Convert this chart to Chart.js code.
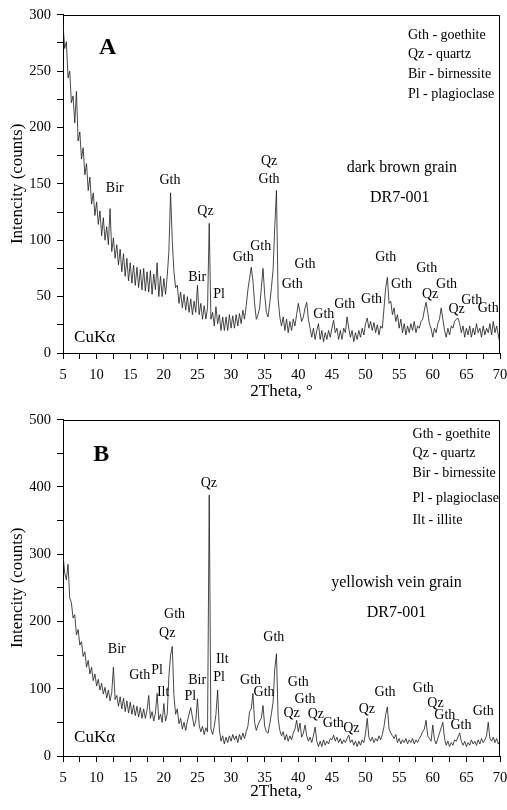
<!DOCTYPE html>
<html>
<head>
<meta charset="utf-8">
<script src="https://cdn.jsdelivr.net/npm/chart.js@4.4.0/dist/chart.umd.min.js"></script>
<style>
  body { margin: 0; background: #fff; }
  .panel { width: 507px; height: 405px; }
</style>
</head>
<body>
<div class="panel"><canvas id="chartA" width="507" height="405"></canvas></div>
<div class="panel"><canvas id="chartB" width="507" height="405"></canvas></div>
<script>
// 2Theta grid of the scans
const thetaStart = 5;
const thetaStep = 0.25;

// panel A - dark brown grain (counts, one row per degree)
const countsA = [
  292, 270, 276, 244,
  250, 222, 228, 204,
  232, 188, 196, 172,
  182, 158, 168, 144,
  156, 132, 142, 122,
  134, 114, 126, 104,
  120, 100, 112, 96,
  128, 90, 102, 84,
  96, 78, 92, 72,
  88, 68, 84, 64,
  80, 62, 78, 60,
  76, 58, 74, 56,
  75, 55, 72, 54,
  73, 52, 70, 56,
  80, 50, 68, 50,
  66, 52, 68, 90,
  142, 100, 72, 58,
  60, 44, 54, 40,
  52, 38, 50, 36,
  48, 34, 46, 36,
  60, 34, 44, 30,
  42, 30, 40, 115,
  30, 36, 24, 41,
  26, 34, 20, 32,
  20, 32, 20, 34,
  22, 33, 22, 34,
  24, 35, 26, 38,
  30, 42, 56, 66,
  76, 64, 44, 30,
  34, 40, 58, 75,
  52, 36, 32, 44,
  58, 74, 112, 144,
  48, 32, 24, 32,
  20, 30, 18, 28,
  20, 30, 24, 34,
  44, 36, 28, 32,
  40, 45, 30, 22,
  14, 22, 12, 20,
  26, 12, 20, 10,
  18, 12, 20, 14,
  22, 29, 18, 22,
  12, 20, 12, 22,
  18, 32, 22, 14,
  20, 10, 18, 12,
  20, 14, 22, 16,
  26, 31, 22, 28,
  20, 27, 18, 25,
  16, 24, 22, 40,
  58, 67, 44, 46,
  34, 40, 28, 34,
  22, 30, 18, 26,
  16, 24, 18, 26,
  20, 28, 18, 24,
  22, 28, 30, 38,
  45, 36, 26, 22,
  14, 22, 18, 26,
  30, 40, 30, 20,
  14, 22, 16, 24,
  22, 28, 30, 31,
  26, 18, 24, 14,
  22, 16, 24, 14,
  22, 16, 26, 18,
  22, 14, 24, 16,
  22, 18, 26, 16,
  28, 18, 24, 16,
  8
];

// panel B - yellowish vein grain
const countsB = [
  300, 272, 262, 285,
  235, 228, 205, 210,
  180, 188, 165, 170,
  148, 155, 132, 142,
  122, 132, 112, 122,
  104, 114, 98, 108,
  92, 102, 86, 98,
  82, 94, 132, 84,
  90, 74, 88, 70,
  86, 66, 82, 64,
  80, 62, 76, 60,
  74, 58, 72, 56,
  70, 56, 68, 90,
  56, 66, 52, 64,
  93, 54, 62, 50,
  78, 52, 62, 118,
  150, 163, 90, 62,
  70, 48, 56, 40,
  50, 38, 52, 62,
  72, 58, 44, 52,
  85, 46, 36, 44,
  32, 42, 36, 388,
  40, 32, 44, 62,
  98, 40, 22, 30,
  18, 28, 20, 30,
  22, 32, 24, 30,
  20, 32, 24, 34,
  26, 36, 44, 66,
  70, 93, 50, 38,
  46, 52, 56, 75,
  44, 36, 34, 48,
  63, 80, 130, 152,
  56, 38, 30, 36,
  24, 32, 22, 30,
  24, 34, 40, 53,
  36, 49, 28, 34,
  46, 30, 22, 28,
  20, 30, 43, 22,
  14, 22, 14, 24,
  16, 22, 18, 26,
  24, 31, 22, 28,
  20, 26, 18, 24,
  20, 26, 31, 20,
  24, 16, 22, 14,
  22, 16, 24, 20,
  34, 56, 28, 22,
  28, 20, 26, 22,
  30, 24, 32, 44,
  62, 73, 40, 34,
  30, 26, 32, 20,
  26, 18, 24, 20,
  26, 18, 24, 20,
  26, 18, 24, 20,
  26, 30, 36, 40,
  53, 30, 26, 22,
  46, 24, 18, 26,
  34, 42, 50, 26,
  16, 22, 14, 20,
  16, 24, 22, 28,
  34, 22, 16, 22,
  14, 20, 16, 24,
  18, 22, 16, 24,
  18, 26, 20, 24,
  30, 50, 26, 22,
  28, 20, 26, 18,
  22
];

// peak labels: [text, 2Theta, counts]
const peaksA = [
  ['Bir', 12.7, 146], ['Gth', 20.9, 153], ['Qz', 26.2, 126], ['Bir', 24.95, 67],
  ['Pl', 28.2, 52], ['Gth', 31.8, 85], ['Gth', 34.4, 95], ['Qz', 35.65, 170],
  ['Gth', 35.65, 154], ['Gth', 41.0, 79], ['Gth', 39.1, 61], ['Gth', 43.8, 34.5],
  ['Gth', 46.9, 43], ['Gth', 50.9, 47.5], ['Gth', 53.0, 85], ['Gth', 55.35, 61],
  ['Gth', 59.1, 75], ['Qz', 59.6, 52], ['Gth', 62.05, 61], ['Qz', 63.55, 38.7],
  ['Gth', 65.8, 47], ['Gth', 68.25, 39.5]
];
const peaksB = [
  ['Qz', 26.7, 406], ['Gth', 21.6, 210], ['Qz', 20.5, 183], ['Bir', 13.0, 159],
  ['Gth', 16.4, 120], ['Pl', 19.0, 128], ['Ilt', 19.9, 95], ['Bir', 24.95, 112],
  ['Pl', 23.95, 88], ['Ilt', 28.7, 144], ['Pl', 28.2, 117], ['Gth', 32.9, 112],
  ['Gth', 34.9, 95], ['Gth', 36.35, 177], ['Gth', 40.0, 110], ['Gth', 41.0, 84],
  ['Qz', 39.0, 63], ['Qz', 42.6, 62], ['Gth', 45.2, 48], ['Qz', 47.9, 41],
  ['Qz', 50.2, 69], ['Gth', 52.9, 95], ['Gth', 58.6, 100], ['Qz', 60.4, 79],
  ['Gth', 61.8, 61], ['Gth', 64.2, 46], ['Gth', 67.5, 67]
];

const legendA = ['Gth - goethite', 'Qz - quartz', 'Bir - birnessite', 'Pl - plagioclase'];
const legendB = ['Gth - goethite', 'Qz - quartz', 'Bir - birnessite', 'Pl - plagioclase', 'Ilt - illite'];

const serif = '"Liberation Serif", "Times New Roman", serif';
Chart.defaults.font.family = serif;
Chart.defaults.color = '#000';

function toPoints(counts) {
  return counts.map((c, i) => ({ x: thetaStart + i * thetaStep, y: c }));
}

// frame + all the text written inside the plot
function notesPlugin(n) {
  return {
    id: 'notes',
    afterDatasetsDraw(chart) {
      const ctx = chart.ctx;
      const xs = chart.scales.x;
      const ys = chart.scales.y;
      const a = chart.chartArea;
      const px = v => xs.getPixelForValue(v);
      const py = v => ys.getPixelForValue(v);
      ctx.save();
      ctx.strokeStyle = '#000';
      ctx.lineWidth = 1;
      ctx.beginPath();
      ctx.moveTo(Math.round(a.left) + 0.5, Math.round(a.top) + 0.5);
      ctx.lineTo(Math.round(a.right) - 0.5, Math.round(a.top) + 0.5);
      ctx.lineTo(Math.round(a.right) - 0.5, Math.round(a.bottom));
      ctx.stroke();

      ctx.fillStyle = '#000';
      ctx.textBaseline = 'middle';
      ctx.textAlign = 'center';
      ctx.font = '14px ' + serif;
      n.peaks.forEach(p => ctx.fillText(p[0], px(p[1]), py(p[2])));

      ctx.textAlign = 'left';
      ctx.font = '14px ' + serif;
      n.legend.forEach((t, i) => ctx.fillText(t, px(n.legendX), py(n.legendY[i])));

      ctx.textAlign = 'center';
      ctx.font = '16px ' + serif;
      ctx.fillText(n.sample, px(n.sampleAt[0]), py(n.sampleAt[1]));
      ctx.fillText('DR7-001', px(n.codeAt[0]), py(n.codeAt[1]));
      ctx.font = '17px ' + serif;
      ctx.fillText('CuK\u03b1', px(9.7), py(n.cuY));

      ctx.font = 'bold 24px ' + serif;
      ctx.fillText(n.letter, px(n.letterAt[0]), py(n.letterAt[1]));
      ctx.restore();
    }
  };
}

function makeChart(id, counts, yMax, yStep, yLabelStep, padTop, xHeight, titlePad, notes) {
  const ctx = document.getElementById(id).getContext('2d');
  return new Chart(ctx, {
    type: 'line',
    data: {
      datasets: [{
        data: toPoints(counts),
        borderColor: 'rgba(30, 30, 30, 0.9)',
        borderWidth: 0.9,
        pointRadius: 0,
        tension: 0,
        fill: false
      }]
    },
    options: {
      responsive: false,
      animation: false,
      layout: { padding: { top: padTop, right: 7, bottom: 0, left: 0 } },
      plugins: { legend: { display: false }, tooltip: { enabled: false } },
      scales: {
        x: {
          type: 'linear',
          min: 5,
          max: 70,
          afterFit: s => { s.height = xHeight; s.paddingLeft = 0; s.paddingRight = 0; },
          ticks: {
            stepSize: 2.5,
            padding: 7,
            maxRotation: 0,
            autoSkip: false,
            font: { size: 14.5 },
            callback: v => (v % 5 === 0 ? v : '')
          },
          grid: { drawOnChartArea: false, color: '#000', tickLength: 6 },
          border: { color: '#000', width: 1 },
          title: {
            display: true,
            text: '2Theta, \u00b0',
            font: { size: 17 },
            padding: { top: 0, bottom: titlePad }
          }
        },
        y: {
          min: 0,
          max: yMax,
          afterFit: s => { s.width = 63; },
          ticks: {
            stepSize: yStep,
            padding: 6,
            font: { size: 14.5 },
            callback: v => (v % yLabelStep === 0 ? v : '')
          },
          grid: { drawOnChartArea: false, color: '#000', tickLength: 6 },
          border: { color: '#000', width: 1 },
          title: {
            display: true,
            text: 'Intencity (counts)',
            font: { size: 17 },
            padding: { top: 7, bottom: 0 }
          }
        }
      }
    },
    plugins: [notesPlugin(notes)]
  });
}

makeChart('chartA', countsA, 300, 25, 50, 14, 52, 3, {
  peaks: peaksA,
  legend: legendA,
  legendX: 56.3,
  legendY: [282, 265, 247, 229],
  sample: 'dark brown grain',
  sampleAt: [55.4, 164.6],
  codeAt: [55.1, 138],
  cuY: 14,
  letter: 'A',
  letterAt: [11.65, 271]
});

makeChart('chartB', countsB, 500, 50, 100, 13, 54, 8, {
  peaks: peaksB,
  legend: legendB,
  legendX: 57.0,
  legendY: [478, 450, 421, 383, 350],
  sample: 'yellowish vein grain',
  sampleAt: [54.6, 258],
  codeAt: [54.6, 213],
  cuY: 27,
  letter: 'B',
  letterAt: [10.7, 448]
});
</script>
</body>
</html>
